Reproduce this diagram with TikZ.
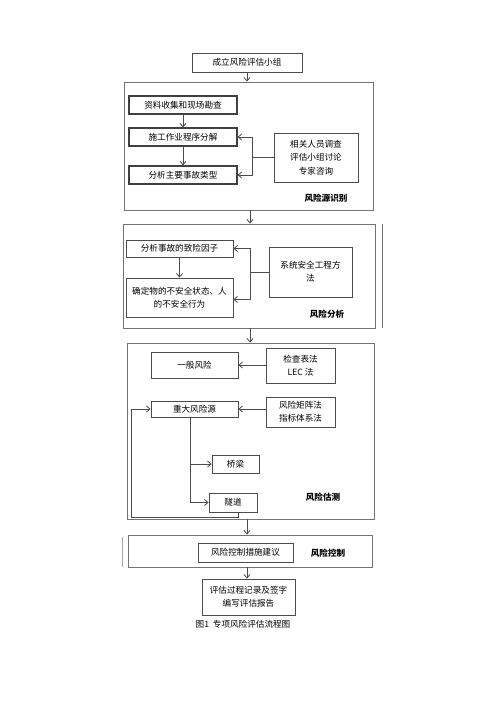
\documentclass[tikz,border=0pt]{standalone}
\usepackage{fontspec}
\setmainfont{Noto Sans CJK SC}
\usetikzlibrary{arrows.meta}
\tikzset{
  every node/.style={font=\fontsize{8.6}{13}\selectfont, inner sep=0pt, align=center},
  box/.style={draw=black!70, line width=0.8pt, rectangle},
  tbox/.style={draw=black!75, line width=1.2pt, rectangle},
  frame/.style={draw=black!55, line width=0.9pt, rectangle},
  lab/.style={font=\fontsize{8.6}{12}\selectfont\bfseries},
  conn/.style={draw=black!70, line width=0.8pt},
  arr/.style={conn, -{Straight Barb[length=3.5pt,width=6pt,line width=0.8pt]}}
}
\begin{document}
\begin{tikzpicture}[x=1pt,y=-1pt]
\useasboundingbox[fill=white] (0,0) rectangle (500,707);

% top
\node[box, minimum width=110pt, minimum height=19pt] (top) at (247,62.5) {成立风险评估小组};

% frame 1
\node[frame, minimum width=249pt, minimum height=128pt] (f1) at (248.5,146) {};
\node[tbox, minimum width=108pt, minimum height=18pt] (b1) at (183,105) {资料收集和现场勘查};
\node[tbox, minimum width=108pt, minimum height=18pt] (b2) at (183,137) {施工作业程序分解};
\node[tbox, minimum width=108pt, minimum height=18pt] (b3) at (183,175) {分析主要事故类型};
\node[box, minimum width=84pt, minimum height=49pt, font=\fontsize{8.6}{13.5}\selectfont] (r1) at (316,157.5) {相关人员调查\\评估小组讨论\\专家咨询};
\coordinate (j1) at (252,157.5);
\node[lab] (l1) at (326,198) {风险源识别};

\draw[arr] (b1.south) -- (b2.north);
\draw[arr] (b2.south) -- (b3.north);
\draw[conn] (r1.west) -- (j1);
\draw[arr] (j1) |- (b2.east);
\draw[arr] (j1) |- (b3.east);

% frame 2
\node[frame, minimum width=252pt, minimum height=104pt] (f2) at (249,276) {};
\coordinate (f2a) at (382,224);
\coordinate (f2b) at (382,328);
\draw[frame] (f2a) -- (f2b);
\node[box, minimum width=107pt, minimum height=17pt] (c1) at (179.5,248.5) {分析事故的致险因子};
\node[box, minimum width=107pt, minimum height=39pt, font=\fontsize{8.6}{12.5}\selectfont] (c2) at (179.5,297.5) {确定物的不安全状态、人\\的不安全行为};
\node[box, minimum width=83pt, minimum height=50pt] (r2) at (310.5,272) {系统安全工程方\\法};
\coordinate (j2) at (250,272);
\node[lab] (l2) at (327,314) {风险分析};

\draw[arr] (c1.south) -- (c2.north);
\draw[conn] (r2.west) -- (j2);
\draw[arr] (j2) |- (c1.east);
\draw[arr] (j2) |- ([yshift=-2pt]c2.east);

% frame 3
\node[frame, minimum width=247pt, minimum height=176pt] (f3) at (250.5,431) {};
\node[box, minimum width=87pt, minimum height=26pt] (d1) at (194.5,365) {一般风险};
\node[box, minimum width=69pt, minimum height=35pt] (r3) at (300.5,365.5) {检查表法\\LEC 法};
\node[box, minimum width=87pt, minimum height=16pt] (d2) at (194.5,409) {重大风险源};
\node[box, minimum width=69pt, minimum height=30pt] (r4) at (300.5,412) {风险矩阵法\\指标体系法};
\node[box, minimum width=47pt, minimum height=18pt] (e1) at (235.5,464) {桥梁};
\node[box, minimum width=48pt, minimum height=19pt] (e2) at (233,502.5) {隧道};
\node[lab] (l3) at (323,497) {风险估测};
\coordinate (t0) at (190,417);
\coordinate (t1) at (190,502.5);
\coordinate (fb1) at (238,517);
\coordinate (fb2) at (131,517);
\coordinate (fb3) at (131,409);

\draw[arr] (r3.west |- d1.east) -- (d1.east);
\draw[arr] (r4.west |- d2.east) -- (d2.east);
\draw[conn] (t0) -- (t1);
\draw[arr] (t0 |- e1.west) -- (e1.west);
\draw[arr] (t1) -- (e2.west);
\draw[conn] (e2.south -| fb1) -- (fb1) -- (fb2) -- (fb3);
\draw[arr] (fb3) -- (d2.west);

% frame 4
\node[frame, minimum width=244pt, minimum height=32pt] (f4) at (250,551) {};
\coordinate (f4a) at (122,537);
\coordinate (f4b) at (122,567);
\draw[frame, draw=black!35] (f4a) -- (f4b);
\node[box, minimum width=95pt, minimum height=19pt] (g1) at (245.5,552.5) {风险控制措施建议};
\node[lab] (l4) at (328,553) {风险控制};

% final
\node[box, minimum width=93pt, minimum height=36pt] (fin) at (248.5,597) {评估过程记录及签字\\编写评估报告};
\node (cap) at (243,624) {图1\ \ 专项风险评估流程图};

% main flow arrows
\draw[arr] (top.south) -- (top.south |- f1.north);
\draw[arr] (f1.south -| 250,0) -- (f2.north -| 250,0);
\draw[arr] (f2.south -| 250,0) -- (f3.north -| 250,0);
\draw[arr] (f3.south -| 247,0) -- (f4.north -| 247,0);
\draw[arr] (f4.south -| 247,0) -- (fin.north -| 247,0);
\end{tikzpicture}
\end{document}
